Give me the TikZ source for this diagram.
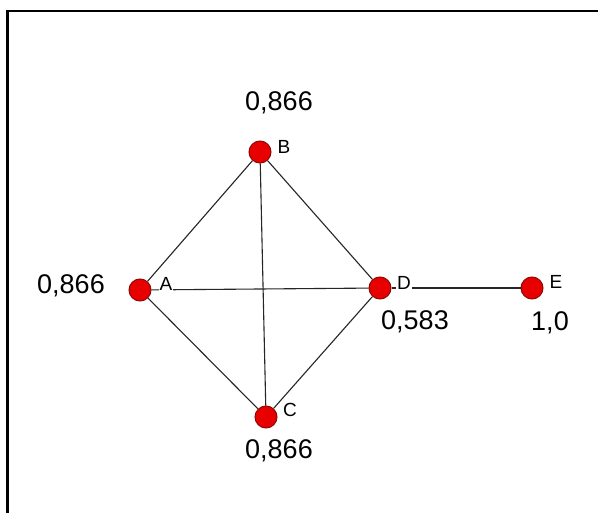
\documentclass[tikz,border=0pt]{standalone}
\usepackage{fontspec}
\setmainfont{Liberation Sans}
\usetikzlibrary{positioning}
\definecolor{dotred}{RGB}{232,0,0}
\definecolor{dotrim}{RGB}{140,10,10}
\tikzset{
  vtx/.style={circle, draw=dotrim, fill=dotred, line width=1pt,
              minimum size=22pt, inner sep=0pt},
  edg/.style={line width=1.1pt, black!85},
  nm/.style={font=\fontsize{19}{19}\selectfont, fill=white, inner sep=1pt},
  val/.style={font=\fontsize{27}{27}\selectfont, inner sep=0pt},
}

\begin{document}
\begin{tikzpicture}[x=1pt,y=-1pt]
    \useasboundingbox (0,0) rectangle (598,513);
    \fill[white] (0,0) rectangle (598,513);
    \draw[line width=2.5pt] (7.5,513) -- (7.5,11) -- (598,11);
    % vertices
    \node[vtx] (A) at (140,290) {};
    \node[vtx] (B) at (260,152) {};
    \node[vtx] (C) at (266,417) {};
    \node[vtx] (D) at (380,288) {};
    \node[vtx] (E) at (532,288) {};
    % edges
    \draw[edg] (A) -- (B);
    \draw[edg] (A) -- (C);
    \draw[edg] (A) -- (D);
    \draw[edg] (B) -- (C);
    \draw[edg] (B) -- (D);
    \draw[edg] (C) -- (D);
    \draw[edg] (D) -- (E);
    % names
    \node[nm] (nA) at (166,284) {A};
    \node[nm] (nB) at (284,147) {B};
    \node[nm] (nC) at (290,410) {C};
    \node[nm] (nD) at (404,283) {D};
    \node[nm] (nE) at (556,282) {E};
    % values
    \node[val] (vA) at (71,286)  {0,866};
    \node[val] (vB) at (279,103) {0,866};
    \node[val] (vC) at (279,451) {0,866};
    \node[val] (vD) at (415,322) {0,583};
    \node[val] (vE) at (550,323) {1,0};
  \end{tikzpicture}
\end{document}
